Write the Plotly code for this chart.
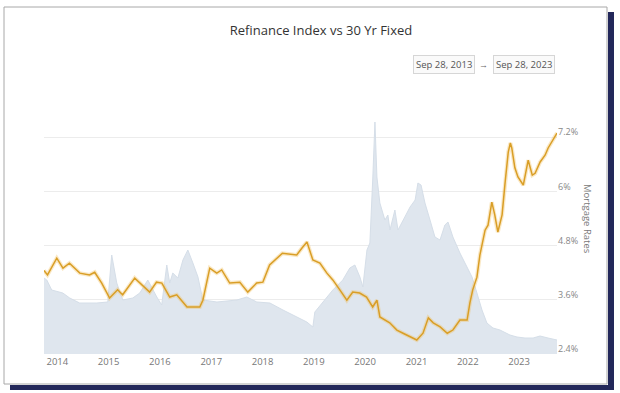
import plotly.graph_objects as go

# ---------------- data ----------------
refi_dates = [
    "2013-09-28", "2013-10-18", "2013-11-22", "2014-01-18", "2014-02-09", "2014-03-30",
    "2014-06-09", "2014-10-09", "2014-12-26", "2015-01-23", "2015-02-07", "2015-02-28",
    "2015-04-12", "2015-06-22", "2015-08-11", "2015-10-07", "2015-12-10", "2016-01-14",
    "2016-02-19", "2016-03-11", "2016-04-02", "2016-05-08", "2016-06-13", "2016-07-18",
    "2016-08-23", "2016-09-28", "2016-11-02", "2017-02-10", "2017-07-02", "2017-09-11",
    "2017-11-21", "2018-02-22", "2018-05-26", "2018-09-02", "2018-11-12", "2018-12-25",
    "2019-01-08", "2019-05-16", "2019-07-26", "2019-09-14", "2019-10-20", "2019-11-25",
    "2019-12-16", "2020-01-14", "2020-02-04", "2020-02-25", "2020-03-11", "2020-03-25",
    "2020-04-15", "2020-05-21", "2020-06-11", "2020-06-26", "2020-07-31", "2020-08-22",
    "2020-09-27", "2020-11-16", "2020-12-22", "2021-01-11", "2021-02-02", "2021-03-02",
    "2021-04-07", "2021-05-12", "2021-06-17", "2021-07-22", "2021-08-13", "2021-09-17",
    "2021-11-06", "2021-12-26", "2022-01-31", "2022-03-07", "2022-04-12", "2022-05-17",
    "2022-06-29", "2022-08-18", "2022-10-28", "2022-12-17", "2023-02-12", "2023-04-11",
    "2023-05-30", "2023-07-26", "2023-09-28",
]
refi_index = [
    1900, 1850, 1600, 1550, 1525, 1400,
    1275, 1275, 1300, 2475, 2175, 1775,
    1350, 1400, 1525, 1850, 1425, 1225,
    2225, 1775, 2025, 1900, 2350, 2600,
    2275, 1925, 1350, 1300, 1350, 1425,
    1300, 1275, 1100, 925, 800, 675,
    1050, 1600, 1850, 2150, 2225, 1925,
    1675, 2600, 2775, 4425, 5800, 4425,
    3775, 3350, 3475, 3100, 3600, 3100,
    3350, 3675, 3850, 4275, 4225, 3775,
    3350, 2925, 2850, 3225, 3300, 2925,
    2525, 2175, 1925, 1525, 1100, 775,
    650, 600, 475, 425, 400, 400,
    450, 400, 350,
]

rate_dates = [
    "2013-09-28", "2013-10-23", "2013-12-28", "2014-02-10", "2014-03-28", "2014-06-10",
    "2014-08-18", "2014-09-24", "2014-11-13", "2015-01-08", "2015-03-06", "2015-04-11",
    "2015-07-06", "2015-09-16", "2015-10-20", "2015-12-08", "2016-01-15", "2016-03-11",
    "2016-04-30", "2016-07-12", "2016-10-11", "2016-11-02", "2016-12-21", "2017-02-09",
    "2017-03-16", "2017-05-12", "2017-07-23", "2017-09-18", "2017-11-20", "2018-01-03",
    "2018-02-20", "2018-05-22", "2018-09-01", "2018-10-10", "2018-11-13", "2018-12-25",
    "2019-02-13", "2019-04-04", "2019-05-16", "2019-07-05", "2019-08-24", "2019-10-05",
    "2019-11-23", "2020-01-11", "2020-02-24", "2020-03-25", "2020-04-15", "2020-06-24",
    "2020-08-14", "2020-09-27", "2020-11-13", "2021-01-03", "2021-02-16", "2021-03-26",
    "2021-04-30", "2021-06-18", "2021-08-08", "2021-09-17", "2021-11-06", "2021-12-27",
    "2022-01-16", "2022-02-05", "2022-03-07", "2022-03-28", "2022-05-04", "2022-05-25",
    "2022-06-21", "2022-07-12", "2022-08-03", "2022-09-02", "2022-09-24", "2022-10-16",
    "2022-10-31", "2022-11-10", "2022-12-02", "2022-12-24", "2023-01-31", "2023-03-07",
    "2023-04-05", "2023-04-25", "2023-05-31", "2023-07-05", "2023-07-27", "2023-08-29",
    "2023-09-28",
]
rate_30yr = [
    4.25, 4.15, 4.52, 4.30, 4.41, 4.19,
    4.15, 4.21, 3.97, 3.64, 3.82, 3.71,
    4.08, 3.88, 3.77, 3.99, 3.97, 3.66,
    3.71, 3.44, 3.44, 3.59, 4.30, 4.19,
    4.26, 3.97, 3.99, 3.77, 3.97, 3.99,
    4.37, 4.63, 4.59, 4.75, 4.88, 4.48,
    4.41, 4.19, 4.04, 3.82, 3.59, 3.77,
    3.75, 3.66, 3.44, 3.59, 3.22, 3.09,
    2.93, 2.86, 2.78, 2.71, 2.86, 3.20,
    3.09, 3.00, 2.86, 2.93, 3.15, 3.15,
    3.53, 3.82, 4.10, 4.59, 5.14, 5.25,
    5.76, 5.48, 5.10, 5.48, 6.21, 6.87,
    7.07, 6.96, 6.52, 6.32, 6.14, 6.69,
    6.36, 6.40, 6.65, 6.80, 6.96, 7.13,
    7.29,
]

rate_tickvals = [2.4, 3.6, 4.8, 6.0, 7.2]
rate_ticktext = ["2.4%", "3.6%", "4.8%", "6%", "7.2%"]

title_text = "Refinance Index vs 30 Yr Fixed"
range_from = "Sep 28, 2013"
range_to = "Sep 28, 2023"

# ---------------- layout geometry ----------------
W, H = 620, 393
PL, PR, PT, PB = 44, 557, 115, 354  # plot area in pixels


def px(x):
    return (x - PL) / (PR - PL)


def py(y):
    return (PB - y) / (PB - PT)


FONT = "Open Sans, Liberation Sans, sans-serif"
NAVY = "#23285a"

fig = go.Figure()

fig.add_trace(go.Scatter(
    x=refi_dates, y=refi_index, yaxis="y", mode="lines",
    line=dict(color="#d5dee8", width=1), fill="tozeroy", fillcolor="#dfe6ee",
    name="Refinance Index", hoverinfo="skip",
))
fig.add_trace(go.Scatter(
    x=rate_dates, y=rate_30yr, yaxis="y2", mode="lines",
    line=dict(color="rgba(240,190,90,0.35)", width=4),
    showlegend=False, hoverinfo="skip",
))
fig.add_trace(go.Scatter(
    x=rate_dates, y=rate_30yr, yaxis="y2", mode="lines",
    line=dict(color="#d99e26", width=1.5),
    name="30 Yr Fixed",
))

shapes = [
    # white card with thin grey border
    dict(type="rect", xref="paper", yref="paper", layer="below",
         x0=px(4), x1=px(607), y0=py(384), y1=py(7),
         fillcolor="white", line=dict(color="#a8a8a8", width=1)),
    # navy drop shadow: right and bottom bars
    dict(type="rect", xref="paper", yref="paper", layer="above",
         x0=px(608), x1=px(614), y0=py(390), y1=py(12),
         fillcolor=NAVY, line=dict(width=0)),
    dict(type="rect", xref="paper", yref="paper", layer="above",
         x0=px(10), x1=px(614), y0=py(390), y1=py(385),
         fillcolor=NAVY, line=dict(width=0)),
]

annotations = [
    dict(text=range_from, xref="paper", yref="paper", x=px(443.5), y=py(64),
         xanchor="center", yanchor="middle",
         showarrow=False, font=dict(family=FONT, size=9.5, color="#555"),
         bordercolor="#d6d6d6", borderwidth=1, borderpad=2, bgcolor="#fafafa"),
    dict(text="→", xref="paper", yref="paper", x=px(483.5), y=py(64),
         xanchor="center", yanchor="middle",
         showarrow=False, font=dict(family=FONT, size=9, color="#666")),
    dict(text=range_to, xref="paper", yref="paper", x=px(524), y=py(64),
         xanchor="center", yanchor="middle",
         showarrow=False, font=dict(family=FONT, size=9.5, color="#555"),
         bordercolor="#d6d6d6", borderwidth=1, borderpad=2, bgcolor="#fafafa"),
    dict(text="Mortgage Rates", xref="paper", yref="paper", x=px(588), y=py(219),
         xanchor="center", yanchor="middle",
         showarrow=False, textangle=90, font=dict(family=FONT, size=9.5, color="#777")),
]

fig.update_layout(
    width=W, height=H,
    margin=dict(l=PL, r=W - PR, t=PT, b=H - PB),
    paper_bgcolor="white", plot_bgcolor="rgba(0,0,0,0)",
    showlegend=False,
    title=dict(text=title_text, x=321 / W, xanchor="center", xref="container",
               y=1 - 30 / H, yanchor="middle", yref="container",
               font=dict(family=FONT, size=13, color="#333")),
    xaxis=dict(type="date", range=["2013-09-28", "2023-09-28"],
               tick0="2014-01-01", dtick="M12", tickformat="%Y",
               showgrid=False, showline=False, zeroline=False, ticks="",
               tickfont=dict(family=FONT, size=9.5, color="#777")),
    yaxis=dict(range=[0, 5975], visible=False, showgrid=False, zeroline=False),
    yaxis2=dict(overlaying="y", side="right", range=[2.4, 7.69],
                tickvals=rate_tickvals, ticktext=rate_ticktext,
                showgrid=True, gridcolor="#ececec", gridwidth=1,
                zeroline=False, showline=False, ticks="",
                ticklabelshift=-5,
                tickfont=dict(family=FONT, size=9, color="#888")),
    shapes=shapes,
    annotations=annotations,
)

fig.write_html("out.html", config={"displayModeBar": False},
               post_script="document.body.style.margin='0';")
